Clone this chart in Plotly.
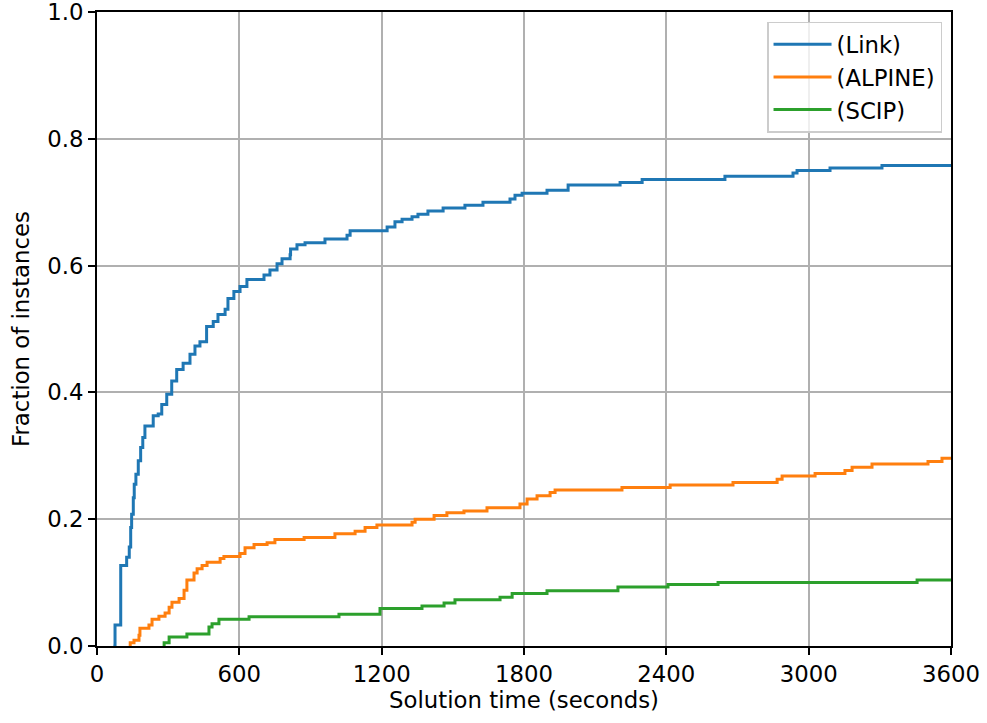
import plotly.graph_objects as go

# Link (blue) step curve: jump times (s) and cumulative fraction after jump
link_t = [69, 76, 100, 125, 136, 142, 146, 153, 157, 164, 174, 184, 193, 202, 237, 258, 273, 294,
          315, 336, 363, 392, 413, 434, 462, 490, 510, 540, 552, 577, 603, 632, 704, 729, 759, 780,
          814, 816, 843, 877, 961, 1054, 1067, 1223, 1256, 1286, 1328, 1353, 1395, 1459, 1551,
          1627, 1741, 1762, 1792, 1897, 1986, 2205, 2298, 2647, 2934, 2951, 3090, 3309, 3600]
link_v = [0.0, 0.033, 0.127, 0.140, 0.156, 0.187, 0.208, 0.234, 0.255, 0.271, 0.292, 0.313, 0.329,
          0.347, 0.363, 0.366, 0.381, 0.397, 0.418, 0.436, 0.446, 0.460, 0.473, 0.480, 0.504,
          0.512, 0.523, 0.531, 0.548, 0.559, 0.567, 0.578, 0.585, 0.593, 0.603, 0.611, 0.617,
          0.626, 0.633, 0.636, 0.642, 0.648, 0.655, 0.661, 0.669, 0.673, 0.677, 0.681, 0.686,
          0.691, 0.695, 0.700, 0.705, 0.711, 0.714, 0.719, 0.727, 0.731, 0.736, 0.741, 0.746,
          0.750, 0.754, 0.758, 0.758]

# ALPINE (orange)
alpine_t = [139, 140, 156, 177, 181, 219, 232, 261, 287, 304, 316, 346, 367, 379, 409, 422, 443, 464,
            519, 535, 603, 624, 662, 717, 750, 873, 1003, 1088, 1130, 1180, 1328, 1341, 1421, 1475,
            1547, 1644, 1783, 1813, 1855, 1910, 1931, 2213, 2416, 2681, 2867, 2888, 3027, 3153,
            3183, 3267, 3503, 3562, 3600]
alpine_v = [0.0, 0.005, 0.009, 0.017, 0.028, 0.033, 0.042, 0.047, 0.052, 0.061, 0.069, 0.075, 0.088,
            0.104, 0.115, 0.122, 0.127, 0.132, 0.138, 0.141, 0.146, 0.155, 0.16, 0.163, 0.168,
            0.171, 0.177, 0.181, 0.187, 0.191, 0.195, 0.2, 0.206, 0.21, 0.213, 0.218, 0.224,
            0.232, 0.237, 0.242, 0.246, 0.25, 0.254, 0.258, 0.263, 0.268, 0.272, 0.277, 0.282,
            0.287, 0.291, 0.296, 0.296]

# SCIP (green)
scip_t = [282, 283, 304, 379, 472, 485, 514, 641, 1020, 1193, 1370, 1463, 1509, 1699, 1750, 1897,
          2196, 2407, 2618, 3457, 3600]
scip_v = [0.0, 0.005, 0.014, 0.019, 0.030, 0.035, 0.042, 0.046, 0.050, 0.059, 0.063, 0.068, 0.073,
          0.077, 0.083, 0.087, 0.093, 0.097, 0.100, 0.104, 0.104]

x_ticks = [0, 600, 1200, 1800, 2400, 3000, 3600]
y_ticks = [0.0, 0.2, 0.4, 0.6, 0.8, 1.0]

fig = go.Figure()
for name, t, v, c in [("(Link)", link_t, link_v, "#1f77b4"),
                      ("(ALPINE)", alpine_t, alpine_v, "#ff7f0e"),
                      ("(SCIP)", scip_t, scip_v, "#2ca02c")]:
    fig.add_trace(go.Scatter(x=t, y=v, mode="lines", name=name, legendgroup=name,
                             line=dict(color=c, width=3, shape="hv")))

FS = 22.8
axis_common = dict(showline=True, linecolor="black", linewidth=1.7, mirror=True,
                   ticks="outside", ticklen=7, tickwidth=1.7, tickcolor="black",
                   showgrid=True, gridcolor="#b0b0b0", gridwidth=1.6, zeroline=False,
                   automargin=False, ticklabeloverflow="allow",
                   tickfont=dict(size=FS, color="black"))

fig.update_layout(
    width=987, height=723,
    margin=dict(l=97, r=36, t=12, b=77),
    paper_bgcolor="white", plot_bgcolor="white",
    font=dict(family="DejaVu Sans", color="black"),
    xaxis=dict(range=[0, 3600], tickvals=x_ticks,
               title=dict(text="Solution time (seconds)", font=dict(size=FS), standoff=3),
               **axis_common),
    yaxis=dict(range=[0, 1], tickvals=y_ticks, tickformat=".1f",
               title=dict(text="Fraction of instances", font=dict(size=FS), standoff=11),
               **axis_common),
    legend=dict(x=0.9895, y=0.985, xanchor="right", yanchor="top",
                bgcolor="rgba(255,255,255,0.8)", bordercolor="#cccccc", borderwidth=1.5,
                font=dict(size=FS), tracegroupgap=0, itemwidth=58),
    showlegend=True,
)

fig.write_html("out.html")
